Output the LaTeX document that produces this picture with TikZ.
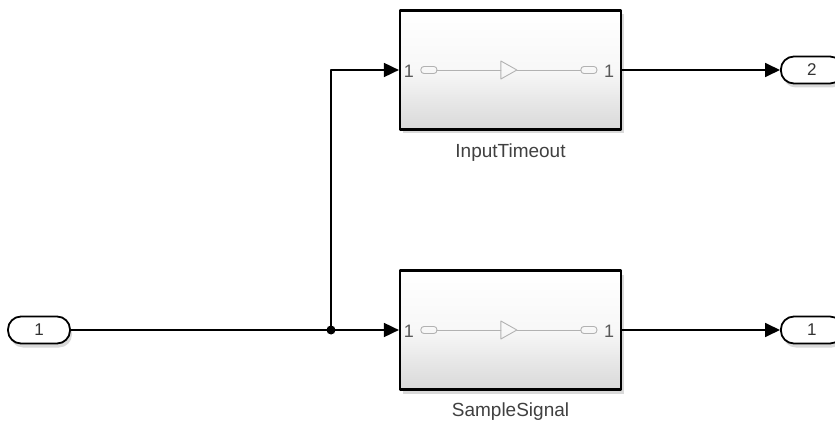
\documentclass[tikz,border=0pt]{standalone}
\usepackage{fontspec}
\setmainfont{Liberation Sans}
\usetikzlibrary{arrows.meta,positioning,shadows}
\begin{document}
\begin{tikzpicture}[x=1pt, y=-1pt, line cap=round, line join=round,
    blk/.style={draw, line width=2.2pt, minimum width=221pt, minimum height=119pt,
      top color=white, bottom color=black!15, middle color=black!3,
      drop shadow={shadow xshift=3pt, shadow yshift=-4pt, opacity=0.3}},
    port/.style={draw, line width=1.8pt, rounded corners=13pt, minimum width=62pt,
      minimum height=27pt, fill=white, inner sep=0pt, font=\fontsize{17}{17}\selectfont,
      text=black!80, drop shadow={shadow xshift=2pt, shadow yshift=-4pt, opacity=0.3}},
    lbl/.style={inner sep=0pt, font=\fontsize{19}{19}\selectfont, text=black!75},
    pnum/.style={inner sep=0pt, font=\fontsize{18}{18}\selectfont, text=black!65},
    icon/.style={draw=black!30, line width=0.9pt},
    wire/.style={line width=1.8pt},
    sig/.style={wire, -{Triangle[length=15pt, width=14pt]}}]
  \useasboundingbox (0,0) rectangle (835,422);
  % ports and blocks
  \node[port] (inp) at (39,330) {1};
  \node[blk] (timeout) at (510.5,70) {};
  \node[blk] (sampl) at (510.5,330) {};
  \node[port, anchor=west] (out2) at (780,70) {2};
  \node[port, anchor=west] (out1) at (780,330) {1};
  \node[lbl, below=13pt of timeout] (timeoutname) {InputTimeout};
  \node[lbl, below=12pt of sampl] (samplname) {SampleSignal};
  % inner icon of each block
  \foreach \b in {timeout,sampl} {
    \node[pnum] at ([shift={(10,1)}]\b.west) {1};
    \node[pnum] at ([shift={(-13,1)}]\b.east) {1};
    \draw[icon, rounded corners=3pt] ([shift={(22,-3.5)}]\b.west) rectangle ([shift={(38,3.5)}]\b.west);
    \draw[icon] ([shift={(38,0)}]\b.west) -- ([shift={(102,0)}]\b.west);
    \draw[icon] ([shift={(102,-9)}]\b.west) -- ([shift={(118,0)}]\b.west) -- ([shift={(102,9)}]\b.west) -- cycle;
    \draw[icon] ([shift={(118,0)}]\b.west) -- ([shift={(182,0)}]\b.west);
    \draw[icon, rounded corners=3pt] ([shift={(182,-3.5)}]\b.west) rectangle ([shift={(198,3.5)}]\b.west);
  }
  % signal lines
  \coordinate (br) at (331,330);
  \draw[wire] (inp.east) -- (br);
  \draw[sig] (br) -- (sampl.west);
  \draw[sig] (br) |- (timeout.west);
  \draw[sig] (timeout.east) -- (out2.west);
  \draw[sig] (sampl.east) -- (out1.west);
  \fill (br) circle (4.5);
\end{tikzpicture}
\end{document}
